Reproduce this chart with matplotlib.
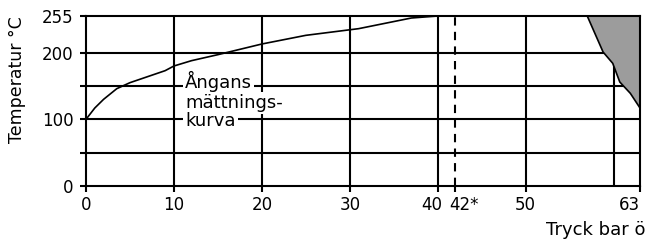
import matplotlib
matplotlib.use("Agg")
import matplotlib.pyplot as plt
import matplotlib.transforms as mtransforms

# Ångans mättningskurva (tryck bar ö -> temperatur °C)
tryck = [0, 1, 2, 3.5, 5, 7, 9, 10, 12, 15, 20, 25, 31, 34, 37, 40]
temperatur = [100, 117, 130, 146, 155, 164, 173, 180, 188, 197, 213, 226, 236, 244, 252, 255]

# grått område uppe till höger
grans_x = [57, 58.8, 59.9, 60.7, 61.9, 63, 63]
grans_y = [255, 201, 184, 156, 139, 117, 255]

x_rutnat = [10, 20, 30, 40, 50, 60]
y_rutnat = [50, 100, 150, 200]
x_ticks = [0, 10, 20, 30, 40, 42, 50, 63]
x_etiketter = ['0', '10', '20', '30', '40', '42*', '50', '63']
y_ticks = [0, 50, 100, 150, 200, 255]
y_etiketter = ['0', '', '100', '', '200', '255']
markering = 42

plt.rcParams['font.family'] = ['DejaVu Sans']

fig = plt.figure(figsize=(6.46, 2.40), dpi=100)
ax = fig.add_axes([86 / 646, 1 - 186 / 240, (640 - 86) / 646, (186 - 16) / 240])

lw = 1.5
for x in x_rutnat:
    ax.axvline(x, color='black', lw=lw, zorder=1)
for y in y_rutnat:
    ax.axhline(y, color='black', lw=lw, zorder=1)

ax.axvline(markering, color='black', lw=lw, linestyle=(0, (4, 3)), zorder=1)

ax.fill(grans_x, grans_y, facecolor='#9c9c9c', edgecolor='none', zorder=2)
ax.plot(grans_x[:-1], grans_y[:-1], color='black', lw=1.2, zorder=3)

ax.plot(tryck, temperatur, color='black', lw=1.2, zorder=3)

rader = ['Ångans', 'mättnings-', 'kurva']
rad_y = [147, 117, 90]
for text, y in zip(rader, rad_y):
    ax.text(11.26, y, text, fontsize=13, va='baseline', ha='left', zorder=4,
            bbox=dict(boxstyle='square,pad=0.12', facecolor='white', edgecolor='none'))

ax.set_xlim(0, 63)
ax.set_ylim(0, 255)
ax.set_xticks(x_ticks)
ax.set_xticklabels(x_etiketter)
ax.set_yticks(y_ticks)
ax.set_yticklabels(y_etiketter)
ax.tick_params(direction='out', length=4.5, width=lw, labelsize=12, colors='black')
ax.tick_params(axis='x', pad=2.5)
ax.tick_params(axis='y', pad=4.5)
for s in ax.spines.values():
    s.set_linewidth(lw)

# tätt liggande etiketter vid 40 och 42, samt 63 vid högerkanten
etiketter = ax.get_xticklabels()
etiketter[4].set_transform(etiketter[4].get_transform() +
                           mtransforms.ScaledTranslation(-6 / 100, 0, fig.dpi_scale_trans))
etiketter[5].set_ha('left')
etiketter[5].set_transform(etiketter[5].get_transform() +
                           mtransforms.ScaledTranslation(-6 / 100, 0, fig.dpi_scale_trans))
etiketter[7].set_ha('right')

fig.text(17 / 646, 1 - 80 / 240, 'Temperatur °C', rotation=90, ha='center', va='center', fontsize=12.5)
fig.text(0.999, 5 / 240, 'Tryck bar ö', ha='right', va='baseline', fontsize=13)

fig.savefig('out.png', dpi=100)
